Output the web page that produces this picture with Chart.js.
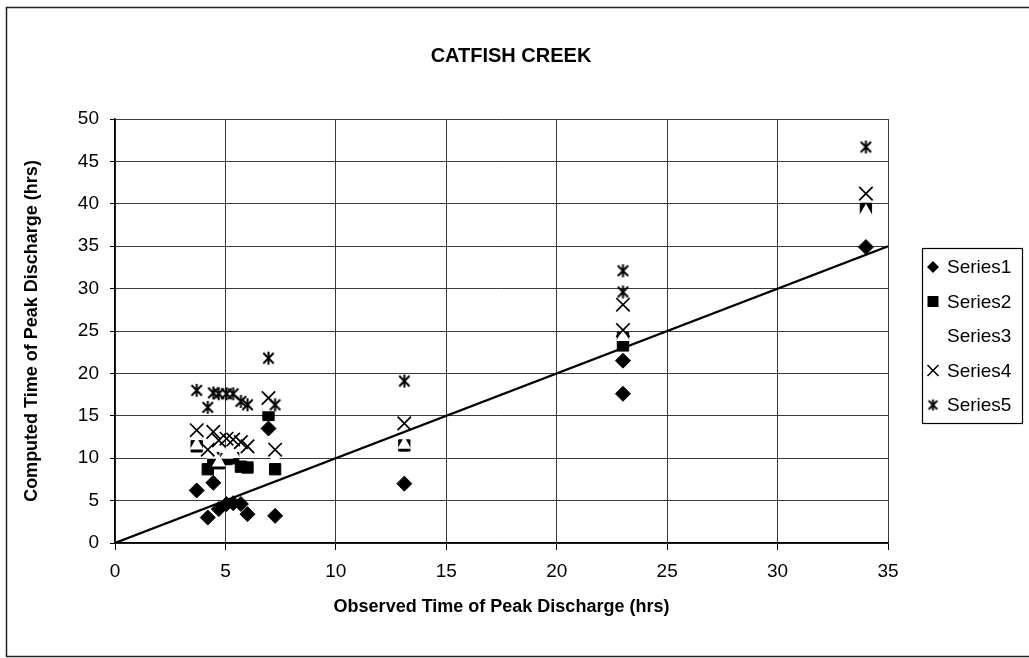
<!DOCTYPE html>
<html>
<head>
<meta charset="utf-8">
<title>Catfish Creek</title>
<script src="https://cdn.jsdelivr.net/npm/chart.js@4.4.0/dist/chart.umd.min.js"></script>
<style>
  html, body { margin: 0; padding: 0; background: #fff; }
  #wrap { position: relative; width: 1029px; height: 658px; }
</style>
</head>
<body>
<div id="wrap"><canvas id="peak-chart" width="1029" height="658"></canvas></div>
<script>
// one entry per storm event: observed peak time and the five computed runs
const observed = [3.7, 4.2, 4.45, 4.7, 5.05, 5.35, 5.7, 6.0, 6.95, 7.25, 13.1, 23, 23, 34];
const series1 = [6.2, 3.0, 7.1, 4.0, 4.6, 4.7, 4.6, 3.4, 13.5, 3.2, 7.0, 21.5, 17.6, 34.9];
const series2 = [11.4, 8.7, 10.0, 9.4, 9.9, 10.0, 9.0, 8.9, 15.1, 8.7, 11.5, 23.3, 24.2, 39.4];
const series3 = [11.5, 10.6, 10.4, 9.5, 10.4, 10.5, 11.5, 11.0, 16.0, 9.9, 11.6, 26.5, 24.3, 39.05];
const series4 = [13.3, 11.0, 13.1, 12.1, 12.3, 12.2, 11.9, 11.4, 17.1, 11.0, 14.1, 25.1, 28.1, 41.2];
const series5 = [18.0, 16.0, 17.7, 17.6, 17.6, 17.6, 16.7, 16.3, 21.8, 16.3, 19.1, 29.6, 32.1, 46.7];
const seriesNames = ['Series1', 'Series2', 'Series3', 'Series4', 'Series5'];
const chartTitle = 'CATFISH CREEK';

// axis ranges, tick spacing and the 1:1 reference line
const xRange = [0, 35];
const yRange = [0, 50];
const tickStep = 5;
const equalLine = [0, 35];

const FONT = '"Liberation Sans", Arial, Helvetica, sans-serif';
Chart.defaults.font.family = FONT;
Chart.defaults.color = '#000';

function toPoints(ys) {
  return ys.map((y, i) => ({ x: observed[i], y: y }));
}

// excel style star marker: an X with a vertical bar through it
function starMarker(size) {
  const c = document.createElement('canvas');
  c.width = size; c.height = size;
  const g = c.getContext('2d');
  const m = size / 2, r = size / 2 - 2;
  g.strokeStyle = '#000';
  g.lineWidth = 2;
  g.beginPath();
  g.moveTo(m - r * 0.8, m - r * 0.8); g.lineTo(m + r * 0.8, m + r * 0.8);
  g.moveTo(m + r * 0.8, m - r * 0.8); g.lineTo(m - r * 0.8, m + r * 0.8);
  g.moveTo(m, m - r); g.lineTo(m, m + r);
  g.stroke();
  return c;
}
const star = starMarker(17);
const smallStar = starMarker(15);

function drawLegendMarker(ctx, i, x, y) {
  ctx.fillStyle = '#000';
  ctx.strokeStyle = '#000';
  ctx.lineWidth = 1.5;
  ctx.beginPath();
  if (i === 0) {
    ctx.moveTo(x, y - 6); ctx.lineTo(x + 6, y); ctx.lineTo(x, y + 6); ctx.lineTo(x - 6, y);
    ctx.closePath(); ctx.fill();
  } else if (i === 1) {
    ctx.fillRect(x - 5.5, y - 5.5, 11, 11);
  } else if (i === 3) {
    ctx.moveTo(x - 5.5, y - 5.5); ctx.lineTo(x + 5.5, y + 5.5);
    ctx.moveTo(x + 5.5, y - 5.5); ctx.lineTo(x - 5.5, y + 5.5);
    ctx.stroke();
  } else if (i === 4) {
    ctx.drawImage(smallStar, x - 7.5, y - 7.5);
  }
}

// page frame, heading and the boxed legend on the right
const frameAndLegend = {
  id: 'frameAndLegend',
  afterDraw(chart) {
    const ctx = chart.ctx;
    ctx.save();
    ctx.strokeStyle = '#222';
    ctx.lineWidth = 1.5;
    ctx.strokeRect(6.5, 7.5, 1040, 649);

    ctx.fillStyle = '#000';
    ctx.font = 'bold 20px ' + FONT;
    ctx.textAlign = 'center';
    ctx.textBaseline = 'middle';
    ctx.fillText(chartTitle, 511, 56);

    ctx.lineWidth = 1.2;
    ctx.strokeStyle = '#000';
    ctx.strokeRect(922.5, 248.5, 100, 175);
    ctx.font = '19px ' + FONT;
    ctx.textAlign = 'left';
    seriesNames.forEach((name, i) => {
      const y = 267 + i * 34.5;
      drawLegendMarker(ctx, i, 933, y);
      ctx.fillStyle = '#000';
      ctx.fillText(name, 947, y + 1);
    });
    ctx.restore();
  }
};

new Chart(document.getElementById('peak-chart'), {
  type: 'scatter',
  data: {
    datasets: [
      {
        label: seriesNames[0], data: toPoints(series1), order: 5,
        pointStyle: 'rectRot', pointRadius: 7.5, pointHoverRadius: 7.5,
        backgroundColor: '#000', borderColor: '#000', borderWidth: 1
      },
      {
        label: seriesNames[1], data: toPoints(series2), order: 4,
        pointStyle: 'rect', pointRadius: 8, pointHoverRadius: 8,
        backgroundColor: '#000', borderColor: '#000', borderWidth: 1
      },
      {
        label: seriesNames[2], data: toPoints(series3), order: 3,
        pointStyle: 'triangle', pointRadius: 8, pointHoverRadius: 8,
        backgroundColor: '#fff', borderColor: '#fff', borderWidth: 0
      },
      {
        label: seriesNames[3], data: toPoints(series4), order: 2,
        pointStyle: 'crossRot', pointRadius: 9.5, pointHoverRadius: 9.5,
        backgroundColor: '#000', borderColor: '#000', borderWidth: 1.7
      },
      {
        label: seriesNames[4], data: toPoints(series5), order: 1,
        pointStyle: star, pointRadius: 8, pointHoverRadius: 8,
        backgroundColor: '#000', borderColor: '#000'
      },
      {
        label: '1:1', type: 'line', order: 6,
        data: equalLine.map(v => ({ x: v, y: v })),
        borderColor: '#000', borderWidth: 2.2, pointRadius: 0, fill: false
      }
    ]
  },
  options: {
    responsive: false,
    animation: false,
    devicePixelRatio: 1,
    layout: { padding: { left: 0, top: 119, right: 141, bottom: 0 } },
    plugins: {
      legend: { display: false },
      tooltip: { enabled: false },
      title: { display: false }
    },
    scales: {
      x: {
        type: 'linear', min: xRange[0], max: xRange[1],
        ticks: { stepSize: tickStep, color: '#000', font: { size: 19 }, padding: 10, maxRotation: 0 },
        grid: { color: '#3a3a3a', lineWidth: 1, tickLength: 7, tickColor: '#000' },
        border: { color: '#000', width: 1.5 },
        title: {
          display: true, text: 'Observed Time of Peak Discharge (hrs)', color: '#000',
          font: { size: 18, weight: 'bold' }, padding: { top: 0, bottom: 40 }
        },
        afterFit(scale) { scale.height = 115; }
      },
      y: {
        type: 'linear', min: yRange[0], max: yRange[1],
        ticks: { stepSize: tickStep, color: '#000', font: { size: 19 }, padding: 11 },
        grid: { color: '#3a3a3a', lineWidth: 1, tickLength: 5, tickColor: '#000' },
        border: { color: '#000', width: 1.5 },
        title: {
          display: true, text: 'Computed Time of Peak Discharge (hrs)', color: '#000',
          font: { size: 18, weight: 'bold' }, padding: { top: 21, bottom: 0 }
        },
        afterFit(scale) { scale.width = 115; }
      }
    }
  },
  plugins: [frameAndLegend]
});
</script>
</body>
</html>
